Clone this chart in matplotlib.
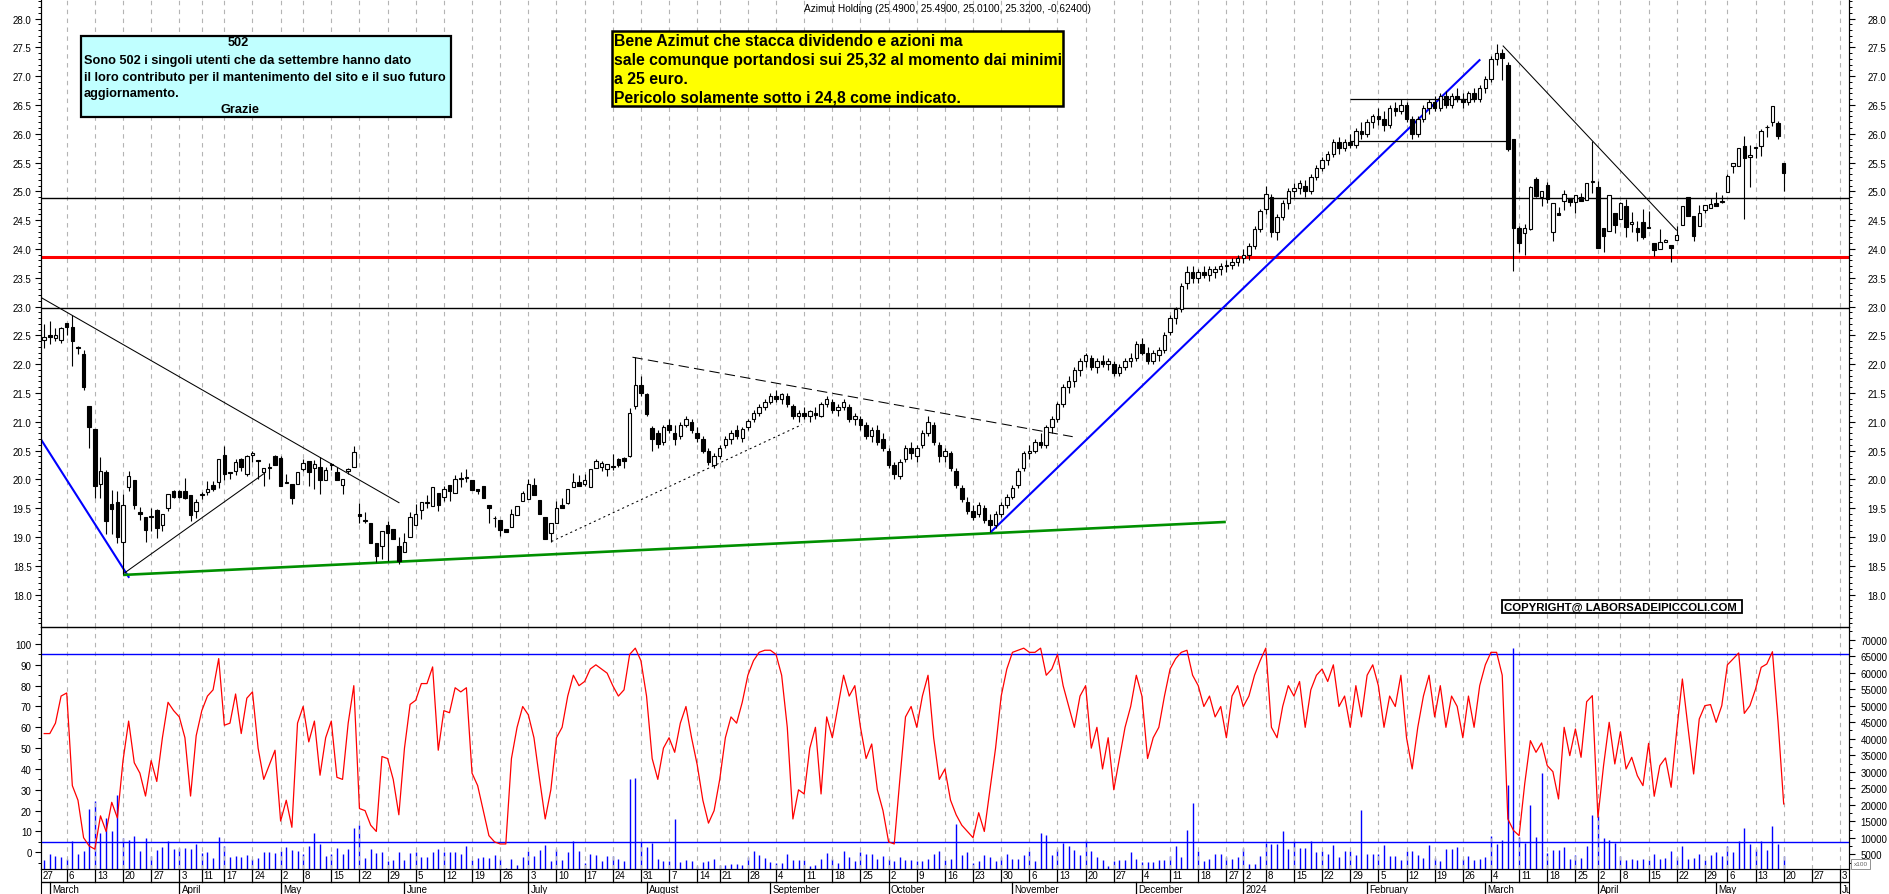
import matplotlib
matplotlib.use("Agg")
import matplotlib.pyplot as plt
import numpy as np
import pandas as pd
from matplotlib import font_manager as fm
from matplotlib.patches import Rectangle
from matplotlib.ticker import FixedLocator, MultipleLocator, FormatStrFormatter

plt.rcParams['font.family'] = ['Liberation Sans', 'DejaVu Sans']

# ---------------- DATA (daily, from 2023-02-28 to 2024-05-20) ----------------
first_day = "2023-02-28"
holidays = ["2023-04-07", "2023-04-10", "2023-05-01", "2023-08-15", "2023-12-25",
            "2023-12-26", "2024-01-01", "2024-03-29", "2024-04-01", "2024-05-01"]

open_ = [
 22.42, 22.50, 22.46, 22.42,
 22.72, 22.65, 22.30, 22.17, 21.28,
 20.88, 19.92, 20.12, 19.58, 19.60,
 18.92, 19.87, 19.98, 19.43, 19.35,
 19.35, 19.47, 19.20, 19.50, 19.80,
 19.80, 19.80, 19.72, 19.45,
 19.72, 19.78, 19.90, 19.95,
 20.43, 20.12, 20.15, 20.35, 20.09,
 20.42, 20.33, 20.13, 20.19, 20.40,
 20.37, 19.93, 19.92, 19.92,
 20.18, 20.32, 20.19, 20.21, 19.99,
 20.24, 20.12, 19.91, 20.15, 20.21,
 19.40, 19.27, 19.25, 18.89, 18.85,
 19.21, 19.14, 18.85, 18.73, 18.99,
 19.21, 19.46, 19.59, 19.54, 19.76,
 19.69, 19.90, 19.77, 20.00, 20.02,
 19.98, 19.83, 19.89, 19.55, 19.32,
 19.30, 19.14, 19.17, 19.38, 19.63,
 19.65, 19.90, 19.64, 19.34, 19.07,
 19.25, 19.55, 19.59, 19.86, 19.96,
 19.92, 19.86, 20.19, 20.22, 20.18,
 20.22, 20.35, 20.37, 20.41, 21.27,
 21.64, 21.48, 20.89, 20.80, 20.65,
 20.95, 20.80, 20.75, 20.95, 21.00,
 20.80, 20.70, 20.50, 20.25,
 20.40, 20.60, 20.70, 20.85, 20.72,
 20.90, 21.05, 21.15, 21.25, 21.35,
 21.45, 21.40, 21.45, 21.28, 21.10,
 21.15, 21.10, 21.15, 21.10, 21.30,
 21.35, 21.20, 21.25, 21.25, 21.05,
 21.05, 20.95, 20.75, 20.85, 20.70,
 20.50, 20.25, 20.05, 20.35, 20.55,
 20.40, 20.60, 20.80, 20.95, 20.60,
 20.40, 20.45, 20.15, 19.85, 19.60,
 19.45, 19.40, 19.50, 19.30, 19.20,
 19.40, 19.55, 19.70, 19.90, 20.20,
 20.45, 20.50, 20.65, 20.60, 20.90,
 21.05, 21.30, 21.60, 21.70, 21.90,
 22.05, 22.10, 21.95, 22.05, 22.00,
 22.00, 21.85, 21.95, 22.05, 22.10,
 22.35, 22.20, 22.05, 22.15, 22.25,
 22.55, 22.80, 22.95, 23.40, 23.60,
 23.50, 23.60, 23.55, 23.60, 23.65,
 23.70, 23.72, 23.78,
 23.85, 23.90, 24.05, 24.35,
 24.70, 24.90, 24.30, 24.55, 24.80,
 25.00, 25.05, 25.10, 25.00, 25.25,
 25.40, 25.55, 25.65, 25.85, 25.75,
 25.85, 25.80, 26.05, 26.00, 26.20,
 26.30, 26.25, 26.15, 26.45, 26.40,
 26.50, 26.25, 26.00, 26.25, 26.45,
 26.55, 26.45, 26.65, 26.50, 26.65,
 26.60, 26.55, 26.70, 26.60, 26.80,
 26.95, 27.30, 27.41, 27.20, 25.90,
 24.36, 24.28, 24.35, 25.21, 24.90,
 25.11, 24.30, 24.63, 24.83, 24.89,
 24.81, 24.91, 24.85, 25.16,
 25.08, 24.37, 24.31, 24.63,
 24.52, 24.75, 24.44, 24.37, 24.47,
 24.36, 24.11, 23.99, 24.12, 24.06,
 24.16, 24.41, 24.91, 24.58, 24.40,
 24.68, 24.71, 24.80, 24.82,
 24.99, 25.44, 25.44, 25.79, 25.59,
 25.75, 25.78, 26.11, 26.20, 26.18,
 25.49,
]

high = [
 22.70, 22.75, 22.62, 22.65,
 22.72, 22.85, 22.31, 22.25, 21.28,
 20.88, 20.38, 20.17, 19.82, 19.80,
 19.75, 20.15, 19.98, 19.52, 19.35,
 19.50, 19.48, 19.40, 19.75, 19.82,
 19.82, 20.03, 19.72, 19.65,
 19.78, 19.97, 19.97, 20.35,
 20.58, 20.12, 20.35, 20.37, 20.42,
 20.50, 20.34, 20.19, 20.29, 20.42,
 20.41, 20.09, 19.92, 20.13,
 20.35, 20.32, 20.33, 20.38, 20.21,
 20.29, 20.21, 20.01, 20.20, 20.58,
 19.59, 19.43, 19.25, 18.89, 19.11,
 19.28, 19.14, 19.00, 19.07, 19.43,
 19.58, 19.60, 19.72, 19.86, 19.76,
 19.89, 19.90, 20.07, 20.12, 20.18,
 19.98, 19.83, 19.89, 19.55, 19.37,
 19.30, 19.14, 19.48, 19.53, 19.80,
 20.01, 20.03, 19.64, 19.34, 19.24,
 19.63, 19.68, 19.84, 20.11, 20.07,
 20.09, 20.18, 20.35, 20.32, 20.27,
 20.44, 20.37, 20.39, 21.23, 22.12,
 21.80, 21.50, 20.92, 20.85, 20.95,
 21.05, 20.95, 21.00, 21.10, 21.05,
 20.90, 20.75, 20.55, 20.45,
 20.60, 20.75, 20.85, 20.95, 20.90,
 21.05, 21.20, 21.30, 21.40, 21.50,
 21.55, 21.50, 21.50, 21.30, 21.20,
 21.25, 21.20, 21.25, 21.35, 21.45,
 21.40, 21.30, 21.40, 21.30, 21.15,
 21.10, 21.00, 20.90, 20.95, 20.80,
 20.55, 20.30, 20.35, 20.60, 20.65,
 20.60, 20.85, 21.10, 21.00, 20.65,
 20.55, 20.50, 20.20, 19.90, 19.70,
 19.55, 19.60, 19.55, 19.40, 19.45,
 19.60, 19.75, 19.90, 20.20, 20.50,
 20.60, 20.70, 20.80, 20.95, 21.10,
 21.35, 21.65, 21.80, 21.95, 22.10,
 22.20, 22.15, 22.10, 22.15, 22.10,
 22.05, 22.00, 22.10, 22.20, 22.40,
 22.45, 22.30, 22.25, 22.30, 22.55,
 22.85, 23.00, 23.40, 23.70, 23.70,
 23.65, 23.70, 23.70, 23.70, 23.75,
 23.80, 23.85, 23.90,
 24.00, 24.10, 24.40, 24.70,
 25.10, 24.95, 24.60, 24.85, 25.05,
 25.15, 25.20, 25.20, 25.30, 25.45,
 25.60, 25.70, 25.90, 25.95, 25.90,
 26.00, 26.10, 26.20, 26.25, 26.35,
 26.45, 26.40, 26.50, 26.55, 26.60,
 26.55, 26.30, 26.30, 26.50, 26.60,
 26.65, 26.70, 26.75, 26.70, 26.80,
 26.70, 26.75, 26.80, 26.85, 27.00,
 27.35, 27.55, 27.47, 27.25, 25.90,
 24.40, 24.44, 25.10, 25.25, 25.01,
 25.17, 24.80, 24.73, 25.02, 24.89,
 24.94, 24.97, 25.15, 25.88,
 25.18, 24.37, 24.93, 24.63,
 24.81, 24.86, 24.64, 24.48, 24.69,
 24.66, 24.11, 24.35, 24.18, 24.06,
 24.39, 24.75, 24.91, 24.58, 24.76,
 24.76, 24.88, 24.98, 24.93,
 25.30, 25.50, 25.76, 25.96, 25.81,
 25.77, 26.08, 26.16, 26.48, 26.22,
 25.49,
]

low = [
 22.28, 22.35, 22.40, 22.36,
 22.50, 21.97, 22.18, 21.55, 20.55,
 19.67, 19.67, 19.05, 19.05, 18.90,
 18.35, 19.80, 19.48, 19.30, 18.92,
 19.10, 18.98, 19.10, 19.45, 19.68,
 19.68, 19.65, 19.27, 19.33,
 19.65, 19.72, 19.80, 19.85,
 19.98, 20.00, 20.08, 20.15, 20.05,
 20.30, 20.00, 19.88, 20.01, 20.24,
 19.88, 19.93, 19.57, 19.92,
 20.15, 19.88, 19.84, 19.74, 19.99,
 20.17, 19.99, 19.74, 20.10, 20.21,
 19.25, 19.25, 18.89, 18.56, 18.62,
 18.59, 18.97, 18.53, 18.73, 18.99,
 19.21, 19.31, 19.51, 19.54, 19.45,
 19.62, 19.63, 19.77, 19.86, 19.95,
 19.82, 19.75, 19.68, 19.24, 19.17,
 19.02, 19.09, 19.17, 19.38, 19.63,
 19.65, 19.72, 19.40, 18.96, 18.92,
 19.25, 19.51, 19.57, 19.86, 19.89,
 19.89, 19.86, 20.19, 20.15, 20.05,
 20.17, 20.22, 20.19, 20.38, 21.22,
 21.45, 21.10, 20.50, 20.55, 20.60,
 20.80, 20.60, 20.70, 20.90, 20.80,
 20.65, 20.45, 20.25, 20.20,
 20.35, 20.55, 20.62, 20.70, 20.65,
 20.85, 21.00, 21.10, 21.20, 21.30,
 21.35, 21.30, 21.25, 21.05, 21.00,
 21.05, 21.00, 21.05, 21.08, 21.25,
 21.15, 21.10, 21.20, 21.00, 20.95,
 20.85, 20.70, 20.65, 20.60, 20.50,
 20.20, 20.00, 20.00, 20.30, 20.35,
 20.30, 20.55, 20.75, 20.60, 20.30,
 20.30, 20.15, 19.85, 19.60, 19.40,
 19.30, 19.35, 19.25, 19.08, 19.15,
 19.35, 19.50, 19.65, 19.85, 20.15,
 20.35, 20.45, 20.55, 20.55, 20.80,
 21.00, 21.25, 21.50, 21.60, 21.80,
 21.95, 21.90, 21.85, 21.95, 21.90,
 21.80, 21.80, 21.90, 21.95, 22.05,
 22.15, 22.00, 22.00, 22.05, 22.20,
 22.50, 22.70, 22.90, 23.30, 23.40,
 23.40, 23.50, 23.45, 23.50, 23.55,
 23.60, 23.65, 23.70,
 23.75, 23.80, 24.00, 24.30,
 24.60, 24.20, 24.15, 24.50, 24.70,
 24.90, 24.95, 24.90, 24.95, 25.20,
 25.35, 25.45, 25.60, 25.65, 25.70,
 25.75, 25.75, 25.90, 25.95, 26.10,
 26.15, 26.05, 26.10, 26.30, 26.35,
 26.20, 25.90, 25.95, 26.20, 26.35,
 26.40, 26.40, 26.45, 26.45, 26.55,
 26.45, 26.50, 26.55, 26.55, 26.70,
 26.90, 27.20, 26.94, 25.70, 23.62,
 23.95, 23.90, 24.33, 24.90, 24.75,
 24.80, 24.14, 24.59, 24.67, 24.75,
 24.63, 24.83, 24.85, 24.97,
 24.01, 23.95, 24.31, 24.27,
 24.52, 24.21, 24.30, 24.14, 24.17,
 24.36, 23.88, 23.99, 24.12, 23.77,
 24.16, 24.41, 24.58, 24.13, 24.40,
 24.62, 24.71, 24.75, 24.80,
 24.99, 25.31, 25.44, 24.52, 25.07,
 25.57, 25.62, 25.95, 26.14, 25.90,
 25.01,
]

close = [
 22.47, 22.47, 22.50, 22.62,
 22.64, 22.40, 22.28, 21.60, 20.90,
 19.88, 20.15, 19.28, 19.48, 19.00,
 19.55, 20.05, 19.55, 19.40, 19.12,
 19.36, 19.15, 19.40, 19.75, 19.70,
 19.70, 19.68, 19.38, 19.60,
 19.74, 19.84, 19.83, 20.35,
 20.10, 20.11, 20.30, 20.21, 20.40,
 20.45, 20.32, 20.19, 20.21, 20.24,
 19.88, 19.94, 19.67, 20.13,
 20.29, 20.13, 20.27, 19.99, 20.17,
 20.26, 19.99, 20.01, 20.18, 20.47,
 19.36, 19.29, 18.89, 18.67, 19.11,
 19.07, 18.97, 18.59, 18.91, 19.34,
 19.40, 19.60, 19.59, 19.86, 19.55,
 19.83, 19.80, 20.01, 20.01, 20.03,
 19.82, 19.79, 19.68, 19.51, 19.32,
 19.12, 19.09, 19.40, 19.53, 19.76,
 19.92, 19.72, 19.40, 18.96, 19.24,
 19.51, 19.51, 19.84, 19.95, 19.89,
 19.98, 20.18, 20.31, 20.29, 20.27,
 20.21, 20.25, 20.32, 21.15, 21.64,
 21.50, 21.13, 20.70, 20.62, 20.90,
 20.85, 20.70, 20.95, 21.05, 20.85,
 20.72, 20.50, 20.30, 20.40,
 20.55, 20.70, 20.80, 20.75, 20.88,
 21.02, 21.15, 21.25, 21.35, 21.45,
 21.40, 21.48, 21.30, 21.10, 21.15,
 21.10, 21.18, 21.12, 21.30, 21.40,
 21.20, 21.25, 21.35, 21.05, 21.10,
 20.95, 20.75, 20.85, 20.65, 20.55,
 20.25, 20.10, 20.30, 20.55, 20.45,
 20.55, 20.80, 21.00, 20.65, 20.40,
 20.50, 20.20, 19.90, 19.65, 19.45,
 19.35, 19.55, 19.30, 19.20, 19.40,
 19.55, 19.70, 19.85, 20.15, 20.45,
 20.50, 20.65, 20.60, 20.90, 21.05,
 21.30, 21.60, 21.70, 21.90, 22.05,
 22.15, 21.95, 22.05, 22.00, 22.05,
 21.85, 21.95, 22.05, 22.10, 22.35,
 22.20, 22.05, 22.20, 22.25, 22.50,
 22.80, 22.95, 23.35, 23.60, 23.50,
 23.60, 23.55, 23.65, 23.65, 23.70,
 23.72, 23.78, 23.85,
 23.90, 24.05, 24.35, 24.65,
 24.95, 24.30, 24.55, 24.80, 25.00,
 25.05, 25.15, 25.00, 25.25, 25.40,
 25.55, 25.65, 25.85, 25.75, 25.85,
 25.80, 26.05, 26.00, 26.20, 26.30,
 26.25, 26.15, 26.45, 26.40, 26.50,
 26.25, 26.00, 26.25, 26.45, 26.55,
 26.45, 26.65, 26.50, 26.65, 26.60,
 26.55, 26.70, 26.60, 26.80, 26.95,
 27.30, 27.40, 27.31, 25.73, 24.37,
 24.11, 24.36, 25.07, 24.92, 25.01,
 24.87, 24.80, 24.59, 24.95, 24.81,
 24.94, 24.83, 25.15, 25.18,
 24.01, 24.22, 24.93, 24.41,
 24.80, 24.38, 24.47, 24.30, 24.21,
 24.38, 23.98, 24.12, 24.16, 24.02,
 24.25, 24.75, 24.58, 24.23, 24.62,
 24.76, 24.78, 24.75, 24.83,
 25.26, 25.50, 25.76, 25.57, 25.63,
 25.76, 26.04, 26.12, 26.48, 25.96,
 25.32,
]

oscillator = [
 57, 57, 62, 75,
 76.5, 32, 25, 7, 3,
 1.5, 17.5, 10, 24, 16.5,
 44, 63, 43, 38, 27,
 44, 34, 55, 72, 68,
 65, 55, 27, 56,
 68, 75, 78, 93,
 61, 62, 76, 57, 74,
 77, 50, 35, 42, 49,
 15, 25, 12, 62,
 70, 53, 63, 37, 55,
 63, 36, 35, 62, 80,
 21, 20, 13, 10, 46,
 45, 35, 18, 50, 71,
 73, 81, 81, 89, 49,
 68, 67, 79, 77, 79,
 38, 32, 20, 8, 5,
 4, 4, 45, 60, 70,
 66, 55, 35, 16, 30,
 55, 60, 75, 85, 80,
 82, 88, 90, 88, 86,
 80, 75, 78, 95, 98,
 92, 75, 45, 35, 50,
 55, 48, 62, 70, 55,
 42, 25, 14, 20,
 35, 55, 65, 62, 72,
 85, 92, 96, 97, 97,
 95, 85, 60, 16, 30,
 28, 50, 60, 28, 65,
 55, 70, 85, 75, 80,
 60, 45, 52, 30, 20,
 5, 4, 35, 65, 70,
 60, 75, 85, 55, 35,
 40, 25, 18, 13, 10,
 7, 19, 10, 30, 50,
 75, 88, 96, 97, 98,
 96, 96, 98, 85, 88,
 95, 80, 70, 60, 75,
 80, 50, 60, 40, 55,
 30, 45, 60, 70, 85,
 75, 45, 55, 60, 75,
 88, 93, 96, 97, 85,
 80, 70, 75, 65, 70,
 55, 75, 80,
 70, 75, 85, 92,
 98, 60, 55, 70, 80,
 75, 82, 60, 78, 85,
 88, 82, 90, 70, 75,
 60, 80, 65, 85, 90,
 80, 60, 75, 70, 85,
 55, 40, 60, 75, 85,
 65, 80, 60, 75, 70,
 55, 75, 60, 80, 90,
 96, 96, 85, 16, 10.5,
 8, 33, 53.6, 48, 52.5,
 41.6, 38.7, 25.6, 60, 46.4,
 59.2, 45.6, 72.3, 75.2,
 16.8, 41.6, 62.4, 42.4,
 57.9, 40, 45.6, 36.8, 32,
 52.3, 26.9, 41.6, 45.3, 31.2,
 58.4, 83.2, 60, 37.6, 64,
 70.4, 70.9, 62.4, 70.4,
 90, 92.8, 95.7, 66.7, 70.4,
 78.4, 88.8, 90.4, 96.3, 62.4,
 23.2,
]

volume = [
 3300, 5100, 4600, 4300,
 3600, 8900, 5100, 6100, 18700,
 21000, 11500, 16000, 12200, 22900,
 10000, 9300, 10600, 6100, 10000,
 4600, 6300, 7300, 9100, 6600,
 6900, 6900, 6600, 8100,
 5400, 5600, 3900, 10200,
 7600, 4300, 4600, 4300, 4900,
 3600, 3900, 5600, 5600, 5400,
 6100, 7300, 6300, 6100,
 5100, 7600, 11500, 8000, 4600,
 5100, 6900, 5100, 6600, 13000,
 14000, 3900, 6600, 5400, 5600,
 3100, 3300, 5600, 3300, 5400,
 5600, 4300, 4300, 5600, 6600,
 5600, 5600, 5600, 5100, 7600,
 3300, 3900, 4300, 3900, 4900,
 3550, 860, 3550, 1900, 4300,
 5900, 4500, 6250, 7750, 2900,
 6700, 3200, 5600, 9150, 5900,
 2400, 5200, 4850, 2900, 4500,
 4500, 3550, 2900, 27800, 28200,
 8600, 7200, 8400, 3550, 2900,
 2900, 15600, 2700, 3200, 3000,
 1600, 2700, 2900, 3550,
 1800, 1800, 2150, 2150, 1800,
 4100, 5900, 4850, 3800, 2700,
 2400, 2400, 5200, 3200, 3200,
 3200, 1600, 1900, 3550, 5400,
 3550, 2400, 5900, 4100, 2900,
 5700, 5200, 5200, 3450, 4500,
 3550, 2900, 4100, 3200, 3200,
 2900, 2900, 3550, 5200, 5900,
 3200, 3550, 14300, 4850, 5600,
 2400, 2900, 4850, 4300, 2900,
 4100, 5200, 3450, 3550, 4850,
 5900, 2900, 11600, 10800, 4850,
 6700, 8400, 7500, 6250, 4850,
 9400, 5900, 4100, 3200, 1600,
 2900, 3200, 3200, 5600, 3550,
 2700, 2700, 2700, 3200, 3200,
 4500, 7500, 4300, 12400, 20500,
 6100, 2900, 3550, 5200, 5200,
 4100, 3550, 4300,
 7000, 2000, 2000, 4500,
 8400, 8100, 8100, 12100, 6500,
 8900, 7000, 6800, 8900, 5600,
 5900, 5200, 7750, 4100, 5900,
 5900, 4850, 18500, 5200, 5200,
 5200, 7750, 4500, 4500, 3200,
 6100, 5900, 4850, 3800, 7750,
 3800, 2900, 6700, 6700, 7200,
 3550, 4500, 3200, 3450, 4100,
 10400, 8100, 9300, 26100, 67500,
 10300, 8500, 20000, 10300, 29600,
 5400, 6400, 6400, 7300, 3600,
 4900, 3900, 7600, 17000,
 16700, 10000, 9300, 8500,
 4600, 3400, 3600, 3400, 3600,
 3300, 5100, 3600, 3900, 6000,
 4300, 7600, 3600, 3900, 5100,
 3300, 4800, 5600, 4600,
 7600, 5600, 8900, 13000, 8100,
 6600, 8900, 6300, 13700, 8100,
 4600,
]

# horizontal levels and hand-drawn trend lines (bar index, price)
level_black = [24.88, 22.97]
level_red = 23.865
osc_bands = [95, 5]
trend_x0 = [-0.62, -0.62, 14.2, 90.1, 104.5, 14.0, 168.1, 231.9, 231.9, 259.1]
trend_p0 = [20.70, 23.16, 18.37, 18.92, 22.12, 18.34, 19.08, 26.60, 25.87, 27.53]
trend_x1 = [15.1, 63.1, 39.2, 134.6, 182.7, 209.9, 255.1, 253.8, 259.8, 290.0]
trend_p1 = [18.29, 19.59, 20.11, 20.95, 20.74, 19.26, 27.29, 26.60, 25.87, 24.32]
trend_col = ['blue', 'black', 'black', 'black', 'black', '#009000', 'blue', 'black', 'black', 'black']
trend_lw = [1.5, 0.75, 0.75, 0.75, 0.75, 1.9, 1.5, 0.9, 0.9, 0.75]
trend_ls = ['-', '-', '-', (0, (2, 3)), (0, (10, 5)), '-', '-', '-', '-', '-']

title_text = "Azimut Holding (25.4900, 25.4900, 25.0100, 25.3200, -0.62400)"
cyan_lines = ["Sono 502 i singoli utenti che da settembre hanno dato",
              "il loro contributo per il mantenimento del sito e il suo futuro",
              "aggiornamento."]
yellow_lines = ["Bene Azimut che stacca dividendo e azioni ma",
                "sale comunque portandosi sui 25,32 al momento dai minimi",
                "a 25 euro.",
                "Pericolo solamente sotto i 24,8 come indicato."]
month_names = {1: '2024', 2: 'February', 3: 'March', 4: 'April', 5: 'May', 6: 'June',
               7: 'July', 8: 'August', 9: 'September', 10: 'October',
               11: 'November', 12: 'December'}

# ---------------- calendar ----------------
cal = pd.bdate_range("2023-02-27", "2024-06-14")
cal = cal[~cal.isin(pd.to_datetime(holidays))]
pos0 = cal.get_loc(pd.Timestamp(first_day))
cal_pos = np.arange(len(cal)) - pos0

n = min(len(open_), len(high), len(low), len(close), len(oscillator), len(volume))
o = np.array(open_[:n]); h = np.array(high[:n]); l = np.array(low[:n]); c = np.array(close[:n])
osc = np.array(oscillator[:n], dtype=float); vol = np.array(volume[:n], dtype=float)
x = np.arange(n)

wk = cal.to_period('W')
first_of_week = np.r_[True, np.asarray(wk[1:] != wk[:-1])]
week_pos = cal_pos[first_of_week]
week_days = cal[first_of_week]
first_of_month = np.r_[True, np.asarray(cal.month[1:] != cal.month[:-1])]
month_pos = cal_pos[first_of_month]
month_days = cal[first_of_month]

# ---------------- figure ----------------
W, H = 1890, 895
fig = plt.figure(figsize=(W / 100, H / 100), dpi=100)
fig.patch.set_facecolor('white')
def fx(px): return px / W
def fy(py): return 1 - py / H

XL, XR = 40.7, 1849.0
XLIM = (-0.62, 320.6)
ax = fig.add_axes([fx(XL), fy(628), (XR - XL) / W, 628 / H])
axl = fig.add_axes([fx(XL), fy(870), (XR - XL) / W, (870 - 628) / H])
axd = fig.add_axes([fx(XL), 0, (XR - XL) / W, 25 / H])
for a in (ax, axl, axd):
    a.set_xlim(*XLIM)
    a.set_xticks([])
ax.set_ylim(17.436, 28.339)
axl.set_ylim(-8.02, 108.16)
axd.set_ylim(0, 1)

grid_kw = dict(color='#b4b4b4', lw=0.8, ls=(0, (4, 4)), zorder=0.5)
for p in week_pos:
    ax.axvline(p, **grid_kw)
    axl.axvline(p, **grid_kw)

# levels
for lv in level_black:
    ax.axhline(lv, color='black', lw=1.0, zorder=2)
ax.axhline(level_red, color='red', lw=2.2, zorder=2)

# trend lines
for i in range(len(trend_x0)):
    ax.plot([trend_x0[i], trend_x1[i]], [trend_p0[i], trend_p1[i]], color=trend_col[i],
            lw=trend_lw[i], ls=trend_ls[i], zorder=2.5, solid_capstyle='butt')

# candles
ax.vlines(x, l, h, color='black', lw=0.8, zorder=3)
up = c >= o
bot = np.minimum(o, c)
hgt = np.maximum(np.abs(c - o), 0.015)
ax.bar(x[up], hgt[up], bottom=bot[up], width=0.62, facecolor='white', edgecolor='black', lw=0.8, zorder=4)
ax.bar(x[~up], hgt[~up], bottom=bot[~up], width=0.62, facecolor='black', edgecolor='black', lw=0.8, zorder=4)

# main y axis ticks
major_p = np.arange(18.0, 28.01, 0.5)
ax.yaxis.set_major_locator(FixedLocator(major_p))
ax.yaxis.set_minor_locator(MultipleLocator(0.1))
ax.yaxis.set_major_formatter(FormatStrFormatter('%.1f'))
ax.tick_params(axis='y', which='major', direction='out', length=4.5, width=0.8, labelsize=7, pad=2,
               left=True, right=False, labelleft=True)
ax.tick_params(axis='y', which='minor', direction='out', length=2.5, width=0.7, left=True, right=False)
ax.spines['top'].set_visible(False)
axr = ax.twinx()
axr.set_ylim(ax.get_ylim())
axr.yaxis.set_major_locator(FixedLocator(major_p))
axr.yaxis.set_minor_locator(MultipleLocator(0.1))
axr.yaxis.set_major_formatter(FormatStrFormatter('%.1f'))
axr.tick_params(axis='y', which='major', direction='out', length=4.5, width=0.8, labelsize=7, pad=9)
axr.tick_params(axis='y', which='minor', direction='out', length=2.5, width=0.7)
axr.spines['top'].set_visible(False)

# lower panel
axv = axl.twinx()
axv.set_ylim(548, 73847)
axv.vlines(x, 0, vol, color='blue', lw=1.0, zorder=2)
axv.set_zorder(1)
axl.set_zorder(2)
axl.patch.set_visible(False)
axl.plot(x, osc, color='red', lw=0.9, zorder=3)
for b in osc_bands:
    axl.axhline(b, color='blue', lw=1.0, zorder=2.5)
axl.yaxis.set_major_locator(FixedLocator(np.arange(0, 101, 10)))
axl.yaxis.set_minor_locator(MultipleLocator(5))
axl.tick_params(axis='y', which='major', direction='out', length=4.5, width=0.8, labelsize=7, pad=2)
axl.tick_params(axis='y', which='minor', direction='out', length=2.5, width=0.7)
axv.yaxis.set_major_locator(FixedLocator(np.arange(5000, 70001, 5000)))
axv.yaxis.set_minor_locator(MultipleLocator(2500))
axv.tick_params(axis='y', which='major', direction='out', length=4.5, width=0.8, labelsize=7, pad=4)
axv.tick_params(axis='y', which='minor', direction='out', length=2.5, width=0.7)

# date strip
for s in ('top', 'bottom'):
    axd.spines[s].set_visible(False)
axd.set_yticks([])
axd.axhline(0.48, color='black', lw=1.0)
for p, d in zip(week_pos, week_days):
    axd.plot([p, p], [0.48, 1.0], color='black', lw=0.9)
    xt = max(p, XLIM[0]) + 0.35
    if xt < XLIM[1] - 0.5:
        axd.text(xt, 0.74, str(d.day), fontsize=7, ha='left', va='center', clip_on=True)
for p, d in zip(month_pos, month_days):
    if p < XLIM[0]:
        continue
    axd.plot([p, p], [0.0, 0.48], color='black', lw=0.9)
    axd.text(p + 0.4, 0.21, month_names[d.month], fontsize=7, ha='left', va='center', clip_on=True)

# ---------------- text boxes ----------------
renderer = fig.canvas.get_renderer()

def has_font(name):
    try:
        fm.findfont(fm.FontProperties(family=name), fallback_to_default=False)
        return True
    except Exception:
        return False

narrow = 'Liberation Sans Narrow' if has_font('Liberation Sans Narrow') else 'Liberation Sans'

def width_for(s, size, family, weight='bold'):
    t = fig.text(0, 0, s, fontsize=size, family=family, fontweight=weight)
    w = t.get_window_extent(renderer=renderer).width
    t.remove()
    return w

def box(x0, y0, x1, y1, fc, lw=1.5):
    fig.patches.append(Rectangle((fx(x0), fy(y1)), (x1 - x0) / W, (y1 - y0) / H,
                                 transform=fig.transFigure, facecolor=fc,
                                 edgecolor='black', lw=lw, zorder=5))

# cyan box
box(80.7, 36.7, 450.7, 117.7, '#c0ffff', lw=1.6)
sz_c = 10 * 363 / width_for(cyan_lines[1], 10, narrow)
fig.text(fx(238), fy(43.5), "502", fontsize=sz_c, family=narrow, fontweight='bold',
         ha='center', va='center', zorder=6)
for s, yy in zip(cyan_lines, [61, 77.7, 94.3]):
    fig.text(fx(84), fy(yy), s, fontsize=sz_c, family=narrow, fontweight='bold',
             ha='left', va='center', zorder=6)
fig.text(fx(240), fy(110), "Grazie", fontsize=sz_c, family=narrow, fontweight='bold',
         ha='center', va='center', zorder=6)

# yellow box
box(611.7, 31.7, 1063, 107.3, '#ffff00', lw=1.8)
sz_y = 0.5 * (11 * 349 / width_for(yellow_lines[0], 11, 'Liberation Sans') +
              11 * 346 / width_for(yellow_lines[3], 11, 'Liberation Sans'))
for s, yy in zip(yellow_lines, [41.7, 61, 80, 98.3]):
    fig.text(fx(614.5), fy(yy), s, fontsize=sz_y, fontweight='bold', ha='left', va='center', zorder=6)

# copyright box
box(1501.7, 600.7, 1741.7, 614, 'white', lw=1.3)
cp = "COPYRIGHT@ LABORSADEIPICCOLI.COM"
sz_cp = 9 * 234 / width_for(cp, 9, 'Liberation Sans')
fig.text(fx(1504), fy(607.6), cp, fontsize=sz_cp, fontweight='bold', ha='left', va='center', zorder=6)

# x100 box
fig.patches.append(Rectangle((fx(1851.5), fy(869.5)), 18.5 / W, 9.5 / H, transform=fig.transFigure,
                             facecolor='white', edgecolor='#808080', lw=0.6, zorder=5))
fig.text(fx(1860.8), fy(864.8), "x100", fontsize=4.6, color='#606060', ha='center', va='center', zorder=6)

# title
sz_t = 7 * 286 / width_for(title_text, 7, 'Liberation Sans', weight='normal')
fig.text(fx(804), fy(9), title_text, fontsize=sz_t, ha='left', va='center', zorder=6)

fig.savefig("out.png", dpi=100, facecolor='white')
